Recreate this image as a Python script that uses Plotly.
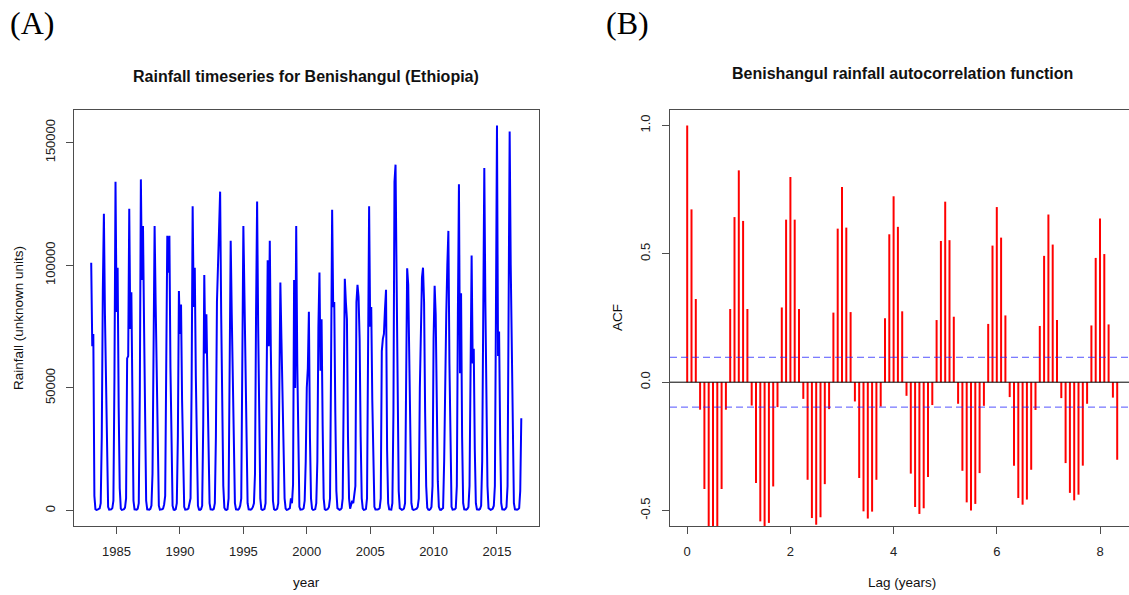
import numpy as np
import plotly.graph_objects as go

# Monthly rainfall, Benishangul (Ethiopia), Jan 1983 - Dec 2016, one row per year
rain_1983_1991 = [
    101000, 67000, 72000, 6000, 600, 300, 400, 500, 900, 3000, 30000, 90000,
    121000, 80000, 46000, 14000, 1500, 400, 300, 500, 1000, 4000, 55000, 134000,
    81000, 99000, 42000, 9000, 800, 300, 400, 600, 1200, 5000, 62000, 63000,
    123000, 74000, 89000, 38000, 4000, 500, 300, 400, 800, 3000, 48000, 135000,
    94000, 116000, 76000, 30000, 4000, 500, 300, 400, 700, 2000, 15000, 70000,
    116000, 84000, 55000, 20000, 2000, 400, 300, 500, 800, 2500, 6000, 45000,
    112000, 97000, 112000, 58000, 15000, 2000, 400, 300, 600, 3000, 30000, 89500,
    72000, 84000, 45000, 12000, 1500, 400, 300, 500, 900, 3500, 5000, 50000,
    124000, 83000, 99000, 55000, 15000, 2000, 400, 300, 600, 2000, 35000, 96000,
]
rain_1992_2000 = [
    64000, 80000, 52000, 18000, 3000, 500, 300, 400, 700, 3000, 30000, 85000,
    100000, 115000, 130000, 80000, 40000, 10000, 1200, 400, 300, 600, 5000, 55000,
    110000, 80000, 50000, 20000, 3000, 500, 300, 400, 800, 2000, 5000, 55000,
    116000, 88000, 58000, 25000, 3000, 500, 300, 400, 700, 1500, 3000, 15000,
    80000, 126000, 75000, 35000, 5000, 600, 300, 400, 700, 3000, 40000, 102000,
    67000, 110000, 65000, 33000, 4000, 600, 300, 400, 800, 3000, 40000, 93000,
    70000, 50000, 25000, 5000, 800, 300, 400, 600, 1000, 5000, 3000, 10500,
    94000, 50000, 116000, 60000, 15000, 1500, 400, 300, 500, 900, 4000, 20000,
    50000, 58000, 81000, 30000, 5000, 700, 300, 400, 600, 3000, 20000, 75000,
]
rain_2001_2008 = [
    97000, 57000, 78000, 35000, 5000, 600, 300, 400, 700, 1500, 5000, 60000,
    122600, 83000, 85000, 40000, 8000, 1000, 400, 300, 500, 1000, 5000, 60000,
    94500, 85000, 78000, 30000, 5000, 800, 2000, 4000, 3000, 6000, 10000, 85000,
    92000, 87000, 70000, 30000, 5000, 800, 300, 400, 700, 5000, 60000, 124000,
    75000, 83000, 45000, 12000, 1500, 400, 300, 400, 600, 1000, 5000, 65000,
    70000, 72000, 82000, 90000, 25000, 3000, 500, 300, 400, 3000, 40000, 134000,
    141000, 95000, 45000, 8000, 1000, 400, 300, 500, 900, 3000, 60000, 98800,
    92000, 55000, 20000, 3000, 600, 300, 400, 500, 800, 1500, 5000, 50000,
]
rain_2009_2016 = [
    75000, 95000, 99000, 85000, 40000, 10000, 1200, 400, 300, 600, 1500, 10000,
    70000, 91600, 80000, 45000, 12000, 1500, 400, 300, 500, 1000, 20000, 65000,
    80000, 100000, 114000, 60000, 15000, 1500, 400, 300, 500, 1000, 10000, 80000,
    133000, 56000, 88600, 30000, 3000, 500, 300, 400, 700, 1500, 10000, 70000,
    104000, 60000, 66000, 25000, 3000, 500, 300, 400, 700, 2000, 20000, 100000,
    139600, 85000, 40000, 10000, 1000, 400, 300, 500, 800, 2000, 10000, 80000,
    157000, 63000, 73000, 30000, 3000, 500, 300, 400, 700, 1500, 10000, 90000,
    154500, 100000, 65000, 30000, 3000, 500, 300, 400, 600, 1000, 8000, 37600,
]
rainfall = rain_1983_1991 + rain_1992_2000 + rain_2001_2008 + rain_2009_2016
start_year = 1983

# Sample autocorrelation of the monthly series, lags 0..100 months
acf_values = [
    1.000, 0.673, 0.324, -0.107, -0.416, -0.580, -0.600, -0.580, -0.416, -0.107,
    0.285, 0.643, 0.825, 0.628, 0.285, -0.091, -0.393, -0.542, -0.565, -0.548,
    -0.406, -0.097, 0.291, 0.633, 0.799, 0.633, 0.285, -0.065, -0.380, -0.529,
    -0.555, -0.526, -0.397, -0.105, 0.271, 0.598, 0.760, 0.602, 0.273, -0.075,
    -0.373, -0.503, -0.531, -0.504, -0.380, -0.095, 0.249, 0.576, 0.724, 0.605,
    0.276, -0.053, -0.356, -0.486, -0.513, -0.491, -0.369, -0.089, 0.242, 0.550,
    0.703, 0.553, 0.255, -0.084, -0.345, -0.468, -0.500, -0.474, -0.354, -0.092,
    0.227, 0.532, 0.682, 0.563, 0.260, -0.058, -0.325, -0.451, -0.477, -0.457,
    -0.341, -0.108, 0.219, 0.492, 0.653, 0.536, 0.242, -0.062, -0.315, -0.431,
    -0.460, -0.438, -0.325, -0.084, 0.221, 0.484, 0.637, 0.499, 0.225, -0.060,
    -0.302,
]

rain_ticks = [0, 50000, 100000, 150000]
year_ticks = [1985, 1990, 1995, 2000, 2005, 2010, 2015]
acf_ticks = [-0.5, 0.0, 0.5, 1.0]
acf_tick_text = ["-0.5", "0.0", "0.5", "1.0"]
lag_ticks = [0, 2, 4, 6, 8]

W, H = 1129, 595
SANS = "Liberation Sans, Arial, Helvetica, sans-serif"
SERIF = "Liberation Serif, Times New Roman, serif"
AXIS_COL = "#4d4d4d"

t = start_year + np.arange(len(rainfall)) / 12.0
lags = np.arange(len(acf_values)) / 12.0
clim = 1.96 / np.sqrt(len(rainfall))

# vertical ACF spikes as one broken line
seg_x, seg_y = [], []
for lg, r in zip(lags, acf_values):
    seg_x += [lg, lg, None]
    seg_y += [0.0, r, None]

fig = go.Figure()
fig.add_trace(go.Scatter(x=t, y=rainfall, mode="lines",
                         line=dict(color="#0000ff", width=2),
                         xaxis="x", yaxis="y", showlegend=False,
                         hoverinfo="skip"))
fig.add_trace(go.Scatter(x=seg_x, y=seg_y, mode="lines",
                         line=dict(color="#ff0000", width=2),
                         xaxis="x2", yaxis="y2", showlegend=False,
                         hoverinfo="skip"))


def px_x(p):
    return p / W


def px_y(p):
    return (H - p) / H


y_dom = [px_y(526), px_y(110)]
tickfont = dict(family=SANS, size=13, color="#222222")
common = dict(showgrid=False, zeroline=False, showline=True,
              linecolor=AXIS_COL, linewidth=1, ticks="outside", ticklen=7,
              tickwidth=1, tickcolor=AXIS_COL, tickfont=tickfont)

fig.update_layout(
    width=W, height=H,
    margin=dict(l=0, r=0, t=0, b=0),
    paper_bgcolor="white", plot_bgcolor="white",
    xaxis=dict(domain=[px_x(74), px_x(538.5)], range=[1981.643, 2018.274],
               tickvals=year_ticks, mirror=True, anchor="y",
               ticklabelstandoff=6, **common),
    yaxis=dict(domain=y_dom, range=[-6280, 163280], tickvals=rain_ticks,
               ticktext=[str(v) for v in rain_ticks], tickangle=-90,
               mirror=True, anchor="x", ticklabelstandoff=6, **common),
    xaxis2=dict(domain=[px_x(670), 1.0], range=[-0.3333, 8.562],
                tickvals=lag_ticks, mirror=True, anchor="y2",
                ticklabelstandoff=6, **common),
    yaxis2=dict(domain=y_dom, range=[-0.56, 1.06], tickvals=acf_ticks,
                ticktext=acf_tick_text, tickangle=-90, mirror=False,
                anchor="x2", ticklabelstandoff=7, **common),
)

# zero line and white-noise bounds on the ACF panel
fig.add_shape(type="line", xref="x2 domain", yref="y2", x0=0, x1=1, y0=0, y1=0,
              line=dict(color="black", width=1))
for c in (clim, -clim):
    fig.add_shape(type="line", xref="x2 domain", yref="y2", x0=0, x1=1,
                  y0=c, y1=c,
                  line=dict(color="rgba(40,40,255,0.8)", width=1,
                            dash="7px,4px"))

ann = []


def label(text, x, y, size=13, angle=0, family=SANS, color="#111111"):
    ann.append(dict(text=text, x=px_x(x), y=px_y(y), xref="paper",
                    yref="paper", showarrow=False, textangle=angle,
                    xanchor="center", yanchor="middle",
                    font=dict(family=family, size=size, color=color)))


label("(A)", 32, 23, size=32, family=SERIF, color="black")
label("(B)", 627, 23, size=32, family=SERIF, color="black")
label("<b>Rainfall timeseries for Benishangul (Ethiopia)</b>", 306, 77, size=16)
label("<b>Benishangul rainfall autocorrelation function</b>", 902, 73, size=16)
label("year", 306, 582, size=13.5)
label("Lag (years)", 902, 582, size=13.5)
label("Rainfall (unknown units)", 18, 318, size=13.5, angle=-90)
label("ACF", 617, 318, size=13.5, angle=-90)
fig.update_layout(annotations=ann)

fig.write_html("out.html")
